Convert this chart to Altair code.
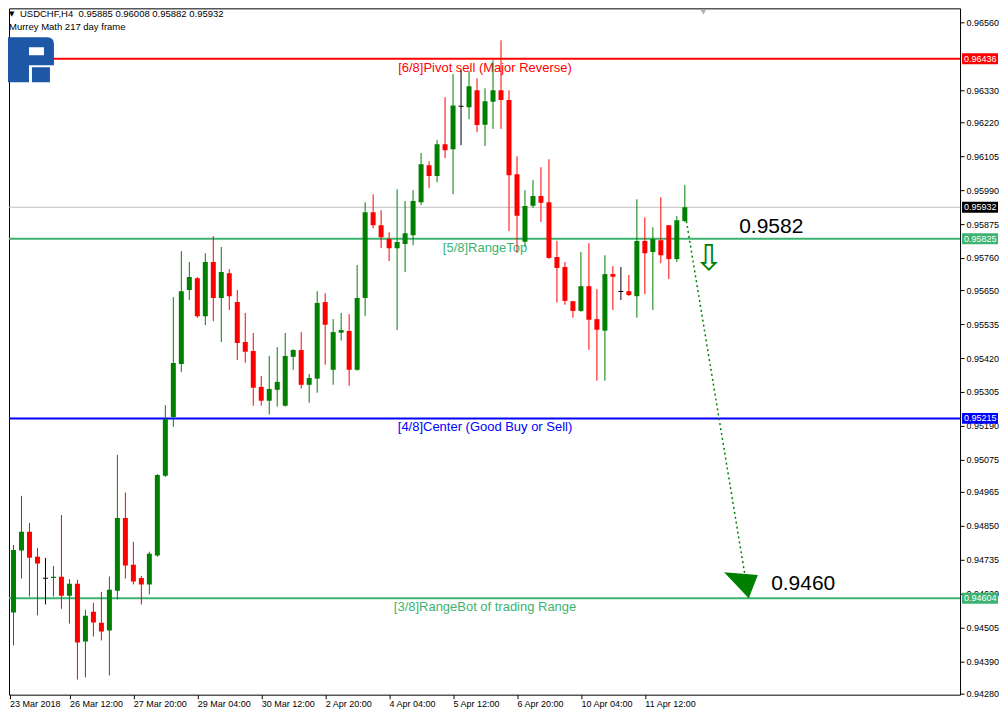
import altair as alt
import pandas as pd

# ---------------- data ----------------
opens = [0.94635, 0.94556, 0.94766, 0.94830, 0.94745, 0.94672, 0.94673, 0.94677, 0.94613, 0.94653,
         0.94457, 0.94558, 0.94521, 0.94495, 0.94630, 0.94877, 0.94718, 0.94673, 0.94651, 0.94749,
         0.95020, 0.95220, 0.95400, 0.95651, 0.95691, 0.95562, 0.95746, 0.95624, 0.95708, 0.95610,
         0.95474, 0.95444, 0.95322, 0.95275, 0.95312, 0.95258, 0.95424, 0.95447, 0.95329, 0.95350,
         0.95610, 0.95380, 0.95506, 0.95512, 0.95380, 0.95624, 0.95915, 0.95871, 0.95824, 0.95793,
         0.95807, 0.95837, 0.95949, 0.96075, 0.96038, 0.96146, 0.96129, 0.96275, 0.96272, 0.96329,
         0.96212, 0.96290, 0.96329, 0.96296, 0.96044, 0.95815, 0.95937, 0.95970, 0.95949, 0.95763,
         0.95729, 0.95613, 0.95580, 0.95664, 0.95552, 0.95513, 0.95705, 0.95646, 0.95647, 0.95630,
         0.95817, 0.95780, 0.95820, 0.95871, 0.95756, 0.95885]
highs = [0.94646, 0.94785, 0.94952, 0.94860, 0.94775, 0.94741, 0.94714, 0.94887, 0.94669, 0.94667,
         0.94565, 0.94589, 0.94626, 0.94678, 0.95091, 0.94963, 0.94796, 0.94680, 0.94762, 0.95026,
         0.95260, 0.95627, 0.95783, 0.95746, 0.95695, 0.95776, 0.95834, 0.95797, 0.95722, 0.95651,
         0.95573, 0.95505, 0.95359, 0.95427, 0.95457, 0.95505, 0.95450, 0.95508, 0.95366, 0.95647,
         0.95640, 0.95552, 0.95573, 0.95569, 0.95736, 0.95949, 0.95976, 0.95922, 0.95847, 0.95993,
         0.95953, 0.95990, 0.96116, 0.96088, 0.96160, 0.96306, 0.96384, 0.96397, 0.96394, 0.96370,
         0.96336, 0.96431, 0.96499, 0.96329, 0.96105, 0.95990, 0.96024, 0.96068, 0.96095, 0.95818,
         0.95746, 0.95614, 0.95780, 0.95810, 0.95654, 0.95769, 0.95732, 0.95729, 0.95702, 0.95959,
         0.95898, 0.95864, 0.95966, 0.95871, 0.95902, 0.96008]
lows = [0.94497, 0.94444, 0.94671, 0.94610, 0.94546, 0.94583, 0.94610, 0.94568, 0.94518, 0.94328,
        0.94335, 0.94474, 0.94461, 0.94342, 0.94600, 0.94671, 0.94651, 0.94583, 0.94617, 0.94745,
        0.95016, 0.95186, 0.95372, 0.95617, 0.95556, 0.95532, 0.95545, 0.95474, 0.95583, 0.95413,
        0.95404, 0.95258, 0.95258, 0.95228, 0.95255, 0.95255, 0.95380, 0.95316, 0.95268, 0.95302,
        0.95397, 0.95329, 0.95479, 0.95326, 0.95377, 0.95563, 0.95861, 0.95793, 0.95749, 0.95515,
        0.95712, 0.95803, 0.95939, 0.95997, 0.96017, 0.96099, 0.95976, 0.96143, 0.96231, 0.96187,
        0.96140, 0.96198, 0.96198, 0.95851, 0.95777, 0.95798, 0.95930, 0.95882, 0.95757, 0.95608,
        0.95601, 0.95557, 0.95577, 0.95448, 0.95343, 0.95343, 0.95583, 0.95617, 0.95630, 0.95557,
        0.95637, 0.95583, 0.95742, 0.95688, 0.95746, 0.95882]
closes = [0.94552, 0.94768, 0.94830, 0.94742, 0.94722, 0.94672, 0.94677, 0.94613, 0.94653, 0.94454,
          0.94545, 0.94522, 0.94491, 0.94633, 0.94877, 0.94715, 0.94661, 0.94651, 0.94755, 0.95023,
          0.95213, 0.95403, 0.95647, 0.95695, 0.95562, 0.95746, 0.95624, 0.95712, 0.95630, 0.95471,
          0.95441, 0.95319, 0.95275, 0.95315, 0.95339, 0.95427, 0.95447, 0.95329, 0.95352, 0.95607,
          0.95533, 0.95508, 0.95515, 0.95380, 0.95624, 0.95915, 0.95871, 0.95830, 0.95793, 0.95814,
          0.95844, 0.95953, 0.96078, 0.96038, 0.96146, 0.96126, 0.96278, 0.96275, 0.96343, 0.96211,
          0.96292, 0.96329, 0.96296, 0.96041, 0.95903, 0.95936, 0.95970, 0.95947, 0.95760, 0.95726,
          0.95614, 0.95580, 0.95664, 0.95550, 0.95516, 0.95705, 0.95696, 0.95646, 0.95634, 0.95817,
          0.95776, 0.95824, 0.95769, 0.95756, 0.95888, 0.95932]

time_labels = ["23 Mar 2018", "26 Mar 12:00", "27 Mar 20:00", "29 Mar 04:00", "30 Mar 12:00",
               "2 Apr 20:00", "4 Apr 04:00", "5 Apr 12:00", "6 Apr 20:00", "10 Apr 04:00", "11 Apr 12:00"]
time_label_bars = [0.5, 8, 16, 24, 32, 40, 48, 56, 64, 72, 80]

price_ticks = [0.96560, 0.96330, 0.96220, 0.96105, 0.95990, 0.95875, 0.95760, 0.95650,
               0.95535, 0.95420, 0.95305, 0.95190, 0.95075, 0.94965, 0.94850, 0.94735, 0.94620,
               0.94505, 0.94390, 0.94280]

level_prices = [0.96436, 0.95825, 0.95215, 0.94604]
level_names = ["[6/8]Pivot sell (Major Reverse)", "[5/8]RangeTop",
               "[4/8]Center (Good Buy or Sell)", "[3/8]RangeBot of trading Range"]
level_colors = ["#ff0000", "#3cb371", "#0000ff", "#3cb371"]
level_label_bar = [60, 60, 60, 60]

bid_price = [0.95932]

tag_prices = [0.96436, 0.95932, 0.95825, 0.95215, 0.94604]
tag_colors = ["#ff0000", "#000000", "#3cb371", "#0000ff", "#3cb371"]

big_texts = ["0.9582", "0.9460"]
big_text_bar = [91.8, 95.8]
big_text_price = [0.95864, 0.94653]

arrow_bar = [85.2, 93.0]
arrow_price = [0.95885, 0.94604]

hollow_arrow_bar = [88]
hollow_arrow_price = [0.95756]

# ---------------- tables ----------------
dirs = ["up" if c > o else ("down" if c < o else "doji") for o, c in zip(opens, closes)]
candles = pd.DataFrame({"idx": list(range(len(opens))), "open": opens, "high": highs,
                        "low": lows, "close": closes, "dir": dirs})
dojis = candles[candles["dir"] == "doji"]
levels = pd.DataFrame({"price": level_prices, "name": level_names, "color": level_colors,
                       "lx": level_label_bar})
tags = pd.DataFrame({"price": tag_prices, "color": tag_colors})
bigs = pd.DataFrame({"text": big_texts, "bx": big_text_bar, "price": big_text_price})
arrow = pd.DataFrame({"bx": arrow_bar, "price": arrow_price})
head = pd.DataFrame({"bx": [arrow_bar[-1]], "price": [arrow_price[-1]]})
hollow = pd.DataFrame({"bx": hollow_arrow_bar, "price": hollow_arrow_price, "t": ["\u21e9"]})
bid = pd.DataFrame({"price": bid_price})

FONT = "Liberation Sans"
PLOT_W = 952
PLOT_H = 687
xs = alt.Scale(domain=[0.4375, 0.4375 + PLOT_W / 8.0], nice=False, zero=False)
ys = alt.Scale(domain=[0.942767, 0.966075], nice=False, zero=False)

label_js = "[" + ",".join("'" + s + "'" for s in time_labels) + "][round(datum.value/8)]"
xaxis = alt.Axis(values=time_label_bars, labelExpr=label_js, title=None, grid=False, domain=False,
                 ticks=True, tickSize=4, tickColor="black", labelColor="black", labelFont=FONT,
                 labelFontSize=9, labelAlign="left", labelPadding=1, labelOverlap=False,
                 labelFlush=False)
yaxis = alt.Axis(values=price_ticks, format=".5f", orient="right", title=None, grid=False,
                 domain=False, ticks=True, tickSize=4, tickColor="black", labelColor="black",
                 labelFont=FONT, labelFontSize=9, labelAlign="left", labelBaseline="middle",
                 labelPadding=2, labelOverlap=False, labelFlush=False)

dir_color = alt.Color("dir:N", scale=alt.Scale(domain=["up", "down", "doji"],
                                               range=["#008000", "#ff0000", "#000000"]),
                      legend=None)

wicks = alt.Chart(candles).mark_rule(strokeWidth=1, clip=True).encode(
    x=alt.X("idx:Q", scale=xs, axis=xaxis),
    y=alt.Y("low:Q", scale=ys, axis=yaxis),
    y2="high:Q",
    color=dir_color,
)
bodies = alt.Chart(candles).mark_rect(xOffset=-2.5, x2Offset=2.5, clip=True).encode(
    x=alt.X("idx:Q", scale=xs, axis=xaxis),
    x2="idx:Q",
    y=alt.Y("open:Q", scale=ys, axis=yaxis),
    y2="close:Q",
    color=dir_color,
)
doji_bars = alt.Chart(dojis).mark_rule(xOffset=-2.5, x2Offset=2.5, color="black", clip=True).encode(
    x=alt.X("idx:Q", scale=xs, axis=xaxis),
    x2="idx:Q",
    y=alt.Y("open:Q", scale=ys, axis=yaxis),
)

bid_line = alt.Chart(bid).mark_rule(color="#c0c0c0", strokeWidth=1).encode(
    y=alt.Y("price:Q", scale=ys, axis=yaxis))
level_lines = alt.Chart(levels).mark_rule(strokeWidth=2).encode(
    y=alt.Y("price:Q", scale=ys, axis=yaxis),
    color=alt.Color("color:N", scale=None))
level_text = alt.Chart(levels).mark_text(font=FONT, fontSize=13, dy=9, align="center",
                                         baseline="middle").encode(
    x=alt.X("lx:Q", scale=xs, axis=xaxis),
    y=alt.Y("price:Q", scale=ys, axis=yaxis),
    text="name:N",
    color=alt.Color("color:N", scale=None))

big_text = alt.Chart(bigs).mark_text(font=FONT, fontSize=21, align="left", baseline="middle",
                                     color="black").encode(
    x=alt.X("bx:Q", scale=xs, axis=xaxis),
    y=alt.Y("price:Q", scale=ys, axis=yaxis),
    text="text:N")

dotted = alt.Chart(arrow).mark_line(color="#008000", strokeWidth=1.5, strokeDash=[2, 3]).encode(
    x=alt.X("bx:Q", scale=xs, axis=xaxis),
    y=alt.Y("price:Q", scale=ys, axis=yaxis))
arrow_head = alt.Chart(head).mark_point(shape="M -1.9 -2 L 0.7 -1.8 L 0 0 Z", filled=True,
                                        size=676, color="#008000", opacity=1).encode(
    x=alt.X("bx:Q", scale=xs, axis=xaxis),
    y=alt.Y("price:Q", scale=ys, axis=yaxis))
hollow_arrow = alt.Chart(hollow).mark_text(font="DejaVu Sans", fontSize=36, color="#008000",
                                           align="center", baseline="middle").encode(
    x=alt.X("bx:Q", scale=xs, axis=xaxis),
    y=alt.Y("price:Q", scale=ys, axis=yaxis),
    text="t:N")

tag_rects = alt.Chart(tags).mark_rect(yOffset=-5.5, y2Offset=5.5).encode(
    x=alt.value(PLOT_W + 2), x2=alt.value(PLOT_W + 38),
    y=alt.Y("price:Q", scale=ys, axis=yaxis), y2="price:Q",
    color=alt.Color("color:N", scale=None))
tag_text = alt.Chart(tags).mark_text(font=FONT, fontSize=9, color="white", align="left",
                                     baseline="middle").encode(
    x=alt.value(PLOT_W + 4),
    y=alt.Y("price:Q", scale=ys, axis=yaxis),
    text=alt.Text("price:Q", format=".5f"))

header = pd.DataFrame({"t": ["USDCHF,H4\u00a0\u00a00.95885 0.96008 0.95882 0.95932"]})
header_text = alt.Chart(header).mark_text(font=FONT, fontSize=9.5, align="left", baseline="middle",
                                          color="black").encode(
    x=alt.value(11), y=alt.value(6), text="t:N")
tri = pd.DataFrame({"t": ["\u25bc"]})
tri_text = alt.Chart(tri).mark_text(font="DejaVu Sans", fontSize=7, align="left", baseline="middle",
                                    color="black").encode(
    x=alt.value(0), y=alt.value(6), text="t:N")
sub = pd.DataFrame({"t": ["Murrey Math 217 day frame"]})
sub_text = alt.Chart(sub).mark_text(font=FONT, fontSize=9.5, align="left", baseline="middle",
                                    color="black").encode(
    x=alt.value(0), y=alt.value(19), text="t:N")

# broker logo (blocky "R") drawn as one custom symbol
logo_path = ("M -1 -0.978 L 0.696 -0.978 Q 1 -0.978 1 -0.674 L 1 0.239 L -0.087 0.239 "
             "L -0.087 0.978 L -1 0.978 Z "
             "M -0.087 -0.543 L -0.087 -0.196 L 0.565 -0.196 L 0.565 -0.543 Z "
             "M 0.043 0.326 L 0.826 0.326 L 0.826 0.978 L 0.043 0.978 Z")
logo_df = pd.DataFrame({"k": ["logo"]})
logo = alt.Chart(logo_df).mark_point(shape=logo_path, filled=True, size=2116, color="#1d57a5",
                                     opacity=1, strokeWidth=0).encode(
    x=alt.value(22), y=alt.value(51.5))

shift_df = pd.DataFrame({"k": ["shift"]})
shift_marker = alt.Chart(shift_df).mark_point(shape="triangle-down", filled=True, size=30,
                                              color="#b4b4b4", opacity=1, strokeWidth=0).encode(
    x=alt.value(695), y=alt.value(4))

chart = alt.layer(
    bid_line, level_lines, level_text, wicks, bodies, doji_bars, dotted, arrow_head,
    hollow_arrow, big_text, tag_rects, tag_text, header_text, tri_text, sub_text, logo,
    shift_marker
).properties(
    width=PLOT_W, height=PLOT_H, padding=0, background="white"
).configure_view(
    stroke="black", strokeWidth=1
)

chart.save("out.html", embed_options={"renderer": "svg", "actions": False})
